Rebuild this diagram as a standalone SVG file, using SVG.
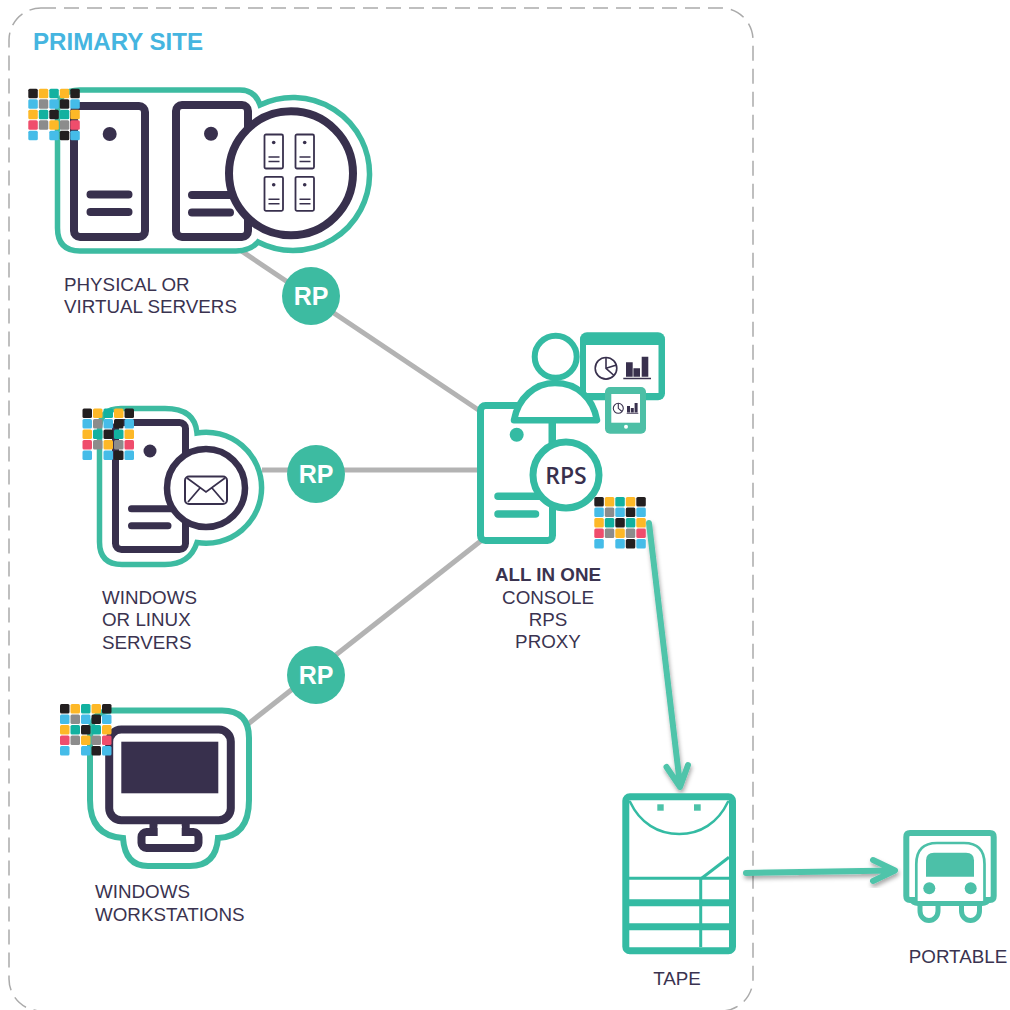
<svg xmlns="http://www.w3.org/2000/svg" width="1010" height="1010" viewBox="0 0 1010 1010">
<style>
.lbl{font-family:"Liberation Sans",Arial,sans-serif;font-size:18.8px;fill:#3a3350}
.m{text-anchor:middle}
.rp{font-family:"Liberation Sans",Arial,sans-serif;font-size:25px;font-weight:700;fill:#fff;text-anchor:middle}
.halo{fill:none;stroke:#3dbba1;stroke-width:5.5}
.dk{fill:none;stroke:#38304d;stroke-width:8;stroke-linecap:round;stroke-linejoin:round}
.dkw{fill:#fff;stroke:#38304d;stroke-linejoin:round}
.tl{fill:none;stroke:#34bba3;stroke-linecap:round;stroke-linejoin:round}
.tlw{fill:#fff;stroke:#34bba3;stroke-linejoin:round}
.link{stroke:#b3b3b3;stroke-width:5;fill:none}
.arrow{fill:none;stroke:#4fc4aa;stroke-width:6;stroke-linecap:round;stroke-linejoin:round}
.k{fill:#231f20}.y{fill:#fdb827}.t{fill:#12b1a0}.b{fill:#45bce8}.g{fill:#8c8c8c}.p{fill:#ef4d6c}
</style>
<defs>
<filter id="sh" x="-30%" y="-30%" width="160%" height="160%"><feDropShadow dx="1" dy="3" stdDeviation="2" flood-color="#000" flood-opacity="0.35"/></filter>
<g id="grid">
<rect class="k" x="0" y="0" width="9.5" height="9.5" rx="1.5"/><rect class="y" x="10.5" y="0" width="9.5" height="9.5" rx="1.5"/><rect class="t" x="21" y="0" width="9.5" height="9.5" rx="1.5"/><rect class="y" x="31.5" y="0" width="9.5" height="9.5" rx="1.5"/><rect class="k" x="42" y="0" width="9.5" height="9.5" rx="1.5"/>
<rect class="b" x="0" y="10.5" width="9.5" height="9.5" rx="1.5"/><rect class="g" x="10.5" y="10.5" width="9.5" height="9.5" rx="1.5"/><rect class="b" x="21" y="10.5" width="9.5" height="9.5" rx="1.5"/><rect class="k" x="31.5" y="10.5" width="9.5" height="9.5" rx="1.5"/><rect class="b" x="42" y="10.5" width="9.5" height="9.5" rx="1.5"/>
<rect class="y" x="0" y="21" width="9.5" height="9.5" rx="1.5"/><rect class="t" x="10.5" y="21" width="9.5" height="9.5" rx="1.5"/><rect class="k" x="21" y="21" width="9.5" height="9.5" rx="1.5"/><rect class="t" x="31.5" y="21" width="9.5" height="9.5" rx="1.5"/><rect class="y" x="42" y="21" width="9.5" height="9.5" rx="1.5"/>
<rect class="p" x="0" y="31.5" width="9.5" height="9.5" rx="1.5"/><rect class="g" x="10.5" y="31.5" width="9.5" height="9.5" rx="1.5"/><rect class="y" x="21" y="31.5" width="9.5" height="9.5" rx="1.5"/><rect class="g" x="31.5" y="31.5" width="9.5" height="9.5" rx="1.5"/><rect class="p" x="42" y="31.5" width="9.5" height="9.5" rx="1.5"/>
<rect class="b" x="0" y="42" width="9.5" height="9.5" rx="1.5"/><rect class="b" x="21" y="42" width="9.5" height="9.5" rx="1.5"/><rect class="k" x="31.5" y="42" width="9.5" height="9.5" rx="1.5"/><rect class="b" x="42" y="42" width="9.5" height="9.5" rx="1.5"/>
</g>
<g id="mini">
<rect x="0" y="0" width="18.5" height="34" rx="1.5" fill="#fff" stroke="#38304d" stroke-width="1.8"/>
<circle cx="9.2" cy="8" r="1.8" fill="#38304d"/>
<path d="M4 22.5H15M4 27H15" stroke="#38304d" stroke-width="1.6" fill="none"/>
</g>
</defs>

<rect id="primary-site" x="9" y="8" width="744" height="1003" rx="32" fill="none" stroke="#aaaaaa" stroke-width="1.5" stroke-dasharray="15 8"/>
<text x="33" y="50" font-family="'Liberation Sans',Arial,sans-serif" font-size="24.1" font-weight="bold" fill="#45b5e0">PRIMARY SITE</text>

<g id="connectors">
<path class="link" d="M240 250L480 411"/>
<path class="link" d="M262 470H480"/>
<path class="link" d="M248 724L482 540"/>
<g filter="url(#sh)"><path class="arrow" d="M649 523L680 785M666.5 767L680 787L688 765"/></g>
<g filter="url(#sh)"><path class="arrow" d="M746 873L893 870.5M873 860L895 870.5L873 881"/></g>
</g>

<g id="node-physical">
<path class="halo" d="M80 90H240Q255 90 260 105A76.5 76.5 0 1 1 258 242Q250 251 236 251H80Q57.5 251 57.5 228V112Q57.5 90 80 90Z"/>
<rect class="dk" x="74" y="106" width="71" height="131" rx="6"/>
<circle cx="109.7" cy="134" r="7" fill="#38304d"/>
<path class="dk" d="M90.5 194.5H128.5M90.5 212H128.5"/>
<rect class="dk" x="176" y="105" width="72" height="132" rx="6"/>
<circle cx="211" cy="133.7" r="7" fill="#38304d"/>
<path class="dk" d="M192 195H232M192 212.5H230"/>
<circle class="dkw" cx="291" cy="173.3" r="62" stroke-width="8"/>
<use href="#mini" x="264.5" y="134.5"/><use href="#mini" x="295.5" y="134.5"/>
<use href="#mini" x="264.5" y="176.8"/><use href="#mini" x="295.5" y="176.8"/>
<use href="#grid" x="28.3" y="88.7"/>
<text class="lbl" x="64" y="291">PHYSICAL OR</text>
<text class="lbl" x="64" y="313">VIRTUAL SERVERS</text>
</g>

<g id="rp-1"><circle cx="311" cy="296" r="29" fill="#3dbba1"/><text class="rp" x="311" y="305">RP</text></g>
<g id="rp-2"><circle cx="316" cy="474" r="29" fill="#3dbba1"/><text class="rp" x="316" y="483">RP</text></g>
<g id="rp-3"><circle cx="316" cy="675" r="29" fill="#3dbba1"/><text class="rp" x="316" y="684">RP</text></g>

<g id="node-windows">
<path class="halo" d="M121 408.5H165Q195 408.5 197 433A55.5 55.5 0 1 1 197 542.5Q190 564.5 165 564.5H122Q99.5 564.5 99.5 542V430Q99.5 408.5 121 408.5Z"/>
<rect class="dk" x="115.5" y="422.5" width="70" height="127" rx="6" style="stroke-width:7"/>
<circle cx="150" cy="451" r="6.5" fill="#38304d"/>
<path class="dk" d="M131.5 508.7H172M131.5 525.7H168" style="stroke-width:7"/>
<circle class="dkw" cx="206" cy="488" r="39" stroke-width="6.5"/>
<rect x="185" y="476.5" width="42" height="27.5" rx="4" fill="none" stroke="#38304d" stroke-width="2"/>
<path d="M187 478L206 492L225 478M188 502L200 488M224 502L212 488" fill="none" stroke="#38304d" stroke-width="1.8"/>
<use href="#grid" x="82.5" y="408.5"/>
<text class="lbl" x="102" y="604">WINDOWS</text>
<text class="lbl" x="102" y="626">OR LINUX</text>
<text class="lbl" x="102" y="649">SERVERS</text>
</g>

<g id="node-workstation">
<path class="halo" style="stroke-width:6" d="M112 710.5H222Q249 710.5 249 738V800Q249 837 218 838Q216 866 190 866H148Q125 866 123 838Q90 836 90 800V738Q90 710.5 112 710.5Z"/>
<rect class="dk" x="141.5" y="832" width="57" height="16" rx="5"/>
<path class="dk" d="M153.5 820V834M185.7 820V834" style="stroke-linecap:butt"/>
<rect x="157.7" y="826" width="24" height="14" fill="#fff"/>
<rect class="dk" x="109.2" y="729.6" width="121.6" height="90.6" rx="12"/>
<rect x="121.3" y="741.7" width="97" height="51.6" fill="#38304d"/>
<use href="#grid" x="60" y="704"/>
<text class="lbl" x="95" y="898">WINDOWS</text>
<text class="lbl" x="95" y="921">WORKSTATIONS</text>
</g>

<g id="node-allinone">
<rect x="580" y="332.3" width="85" height="68" rx="7" fill="#34bba3"/>
<rect x="586" y="345" width="72.5" height="48" fill="#fff"/>
<circle cx="606" cy="368.3" r="10.8" fill="none" stroke="#38304d" stroke-width="1.6"/>
<path d="M606 357.5V368.3L614 375.5M606 368.3L616.5 365" fill="none" stroke="#38304d" stroke-width="1.6"/>
<path d="M626 362.3h6.7v14.4h-6.7zM633.4 368.3h6.6v8.4h-6.6zM641.7 356.7h6.6v20h-6.6z" fill="#38304d"/>
<path d="M623.3 378.5H651" stroke="#38304d" stroke-width="1.5"/>
<rect x="605" y="387" width="41" height="46.7" rx="5" fill="#4dbfa6"/>
<rect x="611.3" y="394" width="28.7" height="28.7" fill="#fff"/>
<circle cx="626" cy="426.7" r="2" fill="#fff"/>
<circle cx="618.3" cy="408.3" r="5" fill="none" stroke="#38304d" stroke-width="1.1"/>
<path d="M618.3 403.3V408.3L622 411.5" fill="none" stroke="#38304d" stroke-width="1.1"/>
<path d="M627 406h3v6.5h-3zM630.8 408h3v4.5h-3zM634.6 403h3v9.5h-3z" fill="#38304d"/>
<path d="M626.7 413.3H638.3" stroke="#38304d" stroke-width="0.9"/>
<rect class="tlw" x="480.5" y="405.5" width="72" height="135" rx="5" stroke-width="7"/>
<circle cx="516.7" cy="434.7" r="7" fill="#34bba3"/>
<path class="tl" stroke-width="7.5" d="M498 496.3H540M498 514H535.5"/>
<path d="M552 420V445" stroke="#34bba3" stroke-width="7"/>
<circle class="tlw" cx="555.7" cy="356.7" r="21" stroke-width="6"/>
<path class="tlw" stroke-width="6.5" d="M514 420.2C518 398 535 383 555 383C577 383 593 398 597 420.2Z"/>
<circle class="tlw" cx="566" cy="475" r="33" stroke-width="7"/>
<text x="566" y="484" text-anchor="middle" font-family="'Open Sans',sans-serif" font-size="23" font-weight="600" fill="#38304d">RPS</text>
<use href="#grid" x="594.3" y="497"/>
<text class="lbl m" x="548" y="581" font-weight="bold">ALL IN ONE</text>
<text class="lbl m" x="548" y="604">CONSOLE</text>
<text class="lbl m" x="548" y="626">RPS</text>
<text class="lbl m" x="548" y="648">PROXY</text>
</g>

<g id="node-tape">
<rect class="tlw" x="625.8" y="796.8" width="106.7" height="154" rx="4" stroke-width="7"/>
<path class="tl" stroke-width="2.5" d="M630 801.7C640 823 658 834 679.3 834C700 834 718 823 728 801.7"/>
<rect x="657.3" y="804.3" width="6.4" height="6.4" fill="#4cc2a8"/>
<rect x="694" y="804.3" width="6.7" height="6.4" fill="#4cc2a8"/>
<path d="M629 878.3H729" stroke="#34bba3" stroke-width="3"/>
<path d="M629 902.7H729M629 926.7H729" stroke="#34bba3" stroke-width="7"/>
<path d="M700.7 878V947" stroke="#34bba3" stroke-width="3"/>
<path d="M701.7 878.3L729 857.3" stroke="#34bba3" stroke-width="3"/>
<text class="lbl m" x="677" y="985">TAPE</text>
</g>

<g id="node-portable">
<path d="M916 900H910Q906.3 900 906.3 896V837Q906.300 833 910 833H990Q993.700 833 993.700 837V896Q993.700 900 990 900H985" fill="none" stroke="#4cc0a8" stroke-width="6"/>
<path d="M916.300 903V864Q916.300 843 937 843H964Q984.500 843 984.500 864V903" fill="#fff" stroke="#4cc0a8" stroke-width="2.700"/>
<path d="M926 876.700V860.500Q926 852.700 934 852.700H966Q974 852.700 974 860.500V876.700Z" fill="#4cc0a8"/>
<circle cx="929.300" cy="888.300" r="6" fill="#4cc0a8"/>
<circle cx="970.700" cy="888.300" r="6" fill="#4cc0a8"/>
<path d="M911 899Q913 903.500 918 903.500H982Q987 903.500 989 899" fill="none" stroke="#4cc0a8" stroke-width="5"/>
<path d="M920 904V911A9 9.500 0 0 0 938 911V904M961.500 904V911A9 9.500 0 0 0 979.500 911V904" fill="none" stroke="#4cc0a8" stroke-width="5"/>
<text class="lbl m" x="958" y="963">PORTABLE</text>
</g>
</svg>
